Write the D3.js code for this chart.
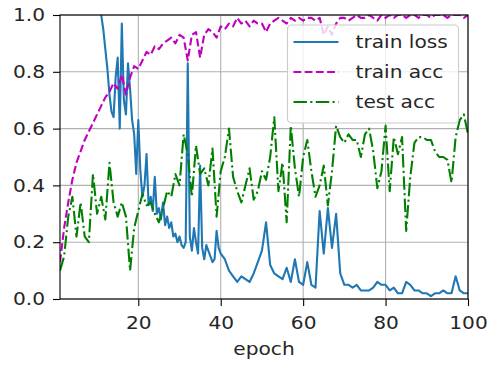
<!DOCTYPE html>
<html>
<head>
<meta charset="utf-8">
<script src="https://cdn.jsdelivr.net/npm/d3@7"></script>
<style>
  body { margin: 0; background: #fff; }
  text { font-family: "DejaVu Sans", sans-serif; fill: #262626; }
</style>
</head>
<body>
<svg id="chart" width="492" height="369"></svg>
<script>
// epochs 1..100 for the accuracies
const epochs = d3.range(1, 101);

// train loss is logged every half epoch between 10.5 and 40, once per epoch elsewhere
const lossEpochs = d3.range(1, 10.5, 1)
  .concat(d3.range(10.5, 40.5, 0.5))
  .concat(d3.range(41, 101, 1));

const trainLoss = [
  2.30, 2.25, 2.10, 1.90, 1.75, 1.60, 1.45, 1.35, 1.20, 1.10,
  // 10.5 .. 40 (half epochs)
  1.05, 1.00, 0.95, 0.88, 0.81, 0.72, 0.66, 0.64, 0.78, 0.85,
  0.60, 0.97, 0.70, 0.65, 0.83, 0.74, 0.63, 0.58, 0.44, 0.63,
  0.45, 0.36, 0.40, 0.51, 0.33, 0.36, 0.31, 0.43, 0.30, 0.32,
  0.28, 0.34, 0.26, 0.29, 0.25, 0.27, 0.22, 0.23, 0.20, 0.22,
  0.19, 0.18, 0.20, 0.83, 0.22, 0.17, 0.25, 0.20, 0.16, 0.47,
  0.18, 0.14, 0.19, 0.17, 0.15, 0.13, 0.14, 0.24, 0.18, 0.16,
  // 41 .. 100
  0.14, 0.10, 0.08, 0.06, 0.08, 0.07, 0.06, 0.09, 0.13, 0.17,
  0.27, 0.12, 0.09, 0.08, 0.07, 0.11, 0.06, 0.14, 0.06, 0.05,
  0.13, 0.05, 0.04, 0.31, 0.16, 0.32, 0.18, 0.30, 0.09, 0.05,
  0.05, 0.04, 0.05, 0.03, 0.03, 0.03, 0.04, 0.06, 0.05, 0.05,
  0.03, 0.04, 0.02, 0.02, 0.06, 0.05, 0.03, 0.03, 0.02, 0.02,
  0.01, 0.02, 0.02, 0.03, 0.02, 0.02, 0.08, 0.03, 0.02, 0.02
];

const trainAcc = [
  0.13, 0.25, 0.34, 0.42, 0.48, 0.52, 0.56, 0.59, 0.62, 0.65,
  0.68, 0.71, 0.73, 0.76, 0.74, 0.79, 0.72, 0.78, 0.82, 0.81,
  0.84, 0.87, 0.86, 0.89, 0.88, 0.90, 0.91, 0.92, 0.90, 0.93,
  0.92, 0.84, 0.93, 0.94, 0.85, 0.93, 0.95, 0.94, 0.92, 0.96,
  0.95, 0.97, 0.96, 0.99, 0.97, 0.98, 0.96, 0.98, 0.97, 0.97,
  0.94, 0.97, 0.98, 0.99, 0.98, 0.97, 0.99, 0.98, 0.99, 0.98,
  0.99, 0.99, 0.98, 0.99, 0.93, 0.96, 0.93, 0.97, 0.99, 0.99,
  0.98, 0.99, 1.00, 0.99, 0.99, 1.00, 0.99, 0.98, 1.00, 0.99,
  1.00, 0.99, 1.00, 1.00, 0.99, 1.00, 1.00, 0.99, 1.00, 1.00,
  0.99, 1.00, 1.00, 1.00, 0.99, 1.00, 1.00, 1.00, 0.99, 1.00
];

const testAcc = [
  0.10, 0.15, 0.29, 0.36, 0.22, 0.34, 0.22, 0.20, 0.44, 0.30,
  0.36, 0.28, 0.48, 0.34, 0.29, 0.34, 0.29, 0.10, 0.25, 0.31,
  0.37, 0.33, 0.34, 0.30, 0.27, 0.32, 0.38, 0.36, 0.44, 0.40,
  0.58, 0.51, 0.36, 0.54, 0.44, 0.46, 0.40, 0.53, 0.29, 0.45,
  0.50, 0.60, 0.43, 0.38, 0.34, 0.40, 0.46, 0.35, 0.38, 0.45,
  0.42, 0.50, 0.64, 0.38, 0.48, 0.27, 0.61, 0.46, 0.36, 0.50,
  0.56, 0.45, 0.36, 0.40, 0.47, 0.33, 0.45, 0.61, 0.57, 0.55,
  0.58, 0.56, 0.56, 0.50, 0.58, 0.60, 0.52, 0.39, 0.45, 0.61,
  0.38, 0.57, 0.51, 0.57, 0.24, 0.43, 0.55, 0.57, 0.57, 0.56,
  0.56, 0.52, 0.50, 0.50, 0.49, 0.41, 0.57, 0.63, 0.65, 0.58
];

const xTicks = [20, 40, 60, 80, 100];
const yTicks = [0, 0.2, 0.4, 0.6, 0.8, 1.0];

const series = [
  { name: 'train loss', xs: lossEpochs, values: trainLoss, color: '#1f77b4', dash: null },
  { name: 'train acc', xs: epochs, values: trainAcc, color: '#bf00bf', dash: '7.8,3.4' },
  { name: 'test acc', xs: epochs, values: testAcc, color: '#008000', dash: '13.4,3.4,2.1,3.4' }
];

const svg = d3.select('#chart');
const margin = { top: 15, right: 24, bottom: 70, left: 60 };
const width = 492 - margin.left - margin.right;
const height = 369 - margin.top - margin.bottom;
const FONT = 18;
const STRETCH = 1.12; // the picture's text is a bit wider than plain DejaVu

const x = d3.scaleLinear().domain([1, 100]).range([0, width]);
const y = d3.scaleLinear().domain([0, 1]).range([height, 0]);

function stretch(sel) {
  sel.each(function () {
    const t = d3.select(this);
    const tx = +t.attr('x') || 0;
    t.attr('x', tx / STRETCH).attr('transform', 'scale(' + STRETCH + ',1)');
  });
}

const g = svg.append('g')
  .attr('transform', 'translate(' + margin.left + ',' + margin.top + ')');

g.append('defs').append('clipPath').attr('id', 'plotclip')
  .append('rect').attr('width', width).attr('height', height);

// grid
g.append('g').selectAll('line').data(xTicks).enter().append('line')
  .attr('x1', d => x(d)).attr('x2', d => x(d))
  .attr('y1', 0).attr('y2', height)
  .attr('stroke', '#b0b0b0').attr('stroke-width', 1.1);
g.append('g').selectAll('line').data(yTicks).enter().append('line')
  .attr('x1', 0).attr('x2', width)
  .attr('y1', d => y(d)).attr('y2', d => y(d))
  .attr('stroke', '#b0b0b0').attr('stroke-width', 1.1);

// lines
const lines = g.append('g').attr('clip-path', 'url(#plotclip)');
series.forEach(s => {
  const line = d3.line()
    .x((d, i) => x(s.xs[i]))
    .y(d => y(d));
  lines.append('path')
    .datum(s.values)
    .attr('fill', 'none')
    .attr('stroke', s.color)
    .attr('stroke-width', 2.1)
    .attr('stroke-dasharray', s.dash)
    .attr('stroke-linejoin', 'round')
    .attr('d', line);
});

// axes
const xAxis = g.append('g')
  .attr('transform', 'translate(0,' + height + ')')
  .call(d3.axisBottom(x).tickValues(xTicks).tickSize(7).tickPadding(10).tickFormat(d3.format('d')));
const yAxis = g.append('g')
  .call(d3.axisLeft(y).tickValues(yTicks).tickSize(7).tickPadding(8).tickFormat(d3.format('.1f')));

[xAxis, yAxis].forEach(a => {
  a.select('.domain').remove();
  a.selectAll('line').attr('stroke', '#000').attr('stroke-width', 1.1);
  a.selectAll('text').attr('font-size', FONT).attr('font-family', '"DejaVu Sans", sans-serif').attr('fill', '#262626');
  stretch(a.selectAll('text'));
});

// frame
g.append('rect')
  .attr('width', width).attr('height', height)
  .attr('fill', 'none').attr('stroke', '#000').attr('stroke-width', 1.1);

g.append('text')
  .attr('x', width / 2).attr('y', height + 56)
  .attr('text-anchor', 'middle')
  .attr('font-size', FONT)
  .text('epoch')
  .call(stretch);

// legend
const lg = g.append('g').attr('transform', 'translate(' + x(56.2) + ',10)');
lg.append('rect')
  .attr('width', 171).attr('height', 98).attr('rx', 4)
  .attr('fill', '#fff').attr('fill-opacity', 0.8)
  .attr('stroke', '#cccccc').attr('stroke-width', 1.1);
series.forEach((s, i) => {
  const yy = 17 + i * 30;
  lg.append('line')
    .attr('x1', 6).attr('x2', 51).attr('y1', yy).attr('y2', yy)
    .attr('stroke', s.color).attr('stroke-width', 2.1)
    .attr('stroke-dasharray', s.dash);
  lg.append('text')
    .attr('x', 68).attr('y', yy + 6)
    .attr('font-size', FONT)
    .text(s.name)
    .call(stretch);
});
</script>
</body>
</html>
